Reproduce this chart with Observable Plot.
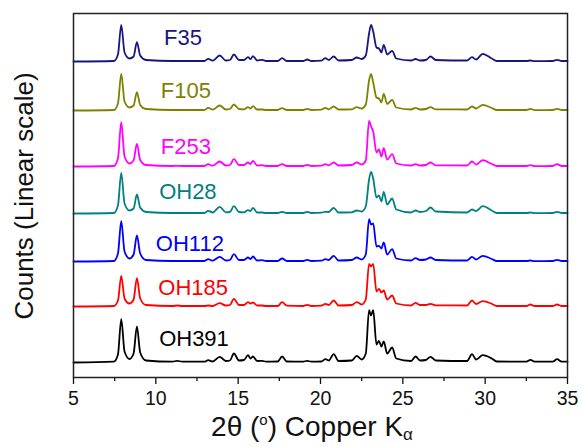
<!DOCTYPE html>
<html><head><meta charset="utf-8">
<script src="https://cdn.jsdelivr.net/npm/d3@7"></script>
<script src="https://cdn.jsdelivr.net/npm/@observablehq/plot@0.6"></script>
<style>body{margin:0;background:#fff;}</style>
</head><body><div id="chart"></div>
<script>
// 2θ positions at which the patterns were read (degrees)
const twoTheta = [5, 7.45, 7.7, 7.9, 8.1, 8.4, 8.65, 8.85, 9.05, 9.4,
  11.0, 11.3, 11.6, 12.95, 13.18, 13.45, 13.88, 14.25, 14.5, 14.74,
  15.05, 15.35, 15.6, 15.75, 15.9, 16.15, 16.45, 16.7, 17.4, 17.67,
  17.95, 18.95, 19.19, 19.45, 20.05, 20.3, 20.5, 20.8, 21.1, 21.9,
  22.2, 22.5, 22.75, 22.95, 23.07, 23.2, 23.4, 23.55, 23.7, 23.84,
  24.05, 24.35, 24.6, 25.5, 25.77, 26.05, 26.4, 26.68, 27.0, 28.9,
  29.2, 29.45, 29.85, 30.4, 30.7, 32.5, 32.75, 33.0, 34.1, 34.37, 34.65, 35];

const samples = ["F35", "F105", "F253", "OH28", "OH112", "OH185", "OH391"];
const colors  = ["#16167e", "#808000", "#ff00ff", "#008080", "#0000ff", "#ff0000", "#000000"];
const offsets = [316, 267, 211, 164, 116, 71, 15];   // vertical stacking offsets (counts)

const F35 = [0,0.5,7,36.7,9,3,5,19.4,6,1.5, 0.5,0.5,0.5,0.5,2.7,0.8,6,1,1.5,7,
  1.5,1.5,4.3,2.5,5.3,1,1.7,0.5,0.5,3.3, 0.5,0.5,2,0.5,0.8,3.3,1.5,5,1,1.5,
  4,2.5,6,28,36.7,30,14,13,9,16.7, 7,10.7,3,1,2.5,1,1.5,5,1.5,1,
  4.3,2,7.7,3,0.5,0.5,1,0.3,0.5,1.7,0.5,0.5];
const F105 = [0,0.5,7,36.7,9,3,5,18.3,5.5,1.5, 0.5,0.5,0.5,0.5,2.7,0.8,5,1,1.5,6,
  1.5,1.2,3.3,2,4.3,1,1,0.5,0.5,2.3, 0.5,0.5,1.7,0.5,0.8,2.7,1.2,4,1,1.2,
  3.3,2,6,30,36.7,28,13,12,8,16.7, 6.5,10.7,3,1,2.7,1,1.5,3.3,1.2,1,
  4,2,5.7,2.5,0.5,0.5,1.7,0.3,0.5,1.7,0.5,0.5];
const F253 = [0,0.5,8,44.3,10,3,6,22.7,6.5,1.5, 0.5,0.7,0.5,0.5,2.3,0.8,5,1,1.5,7.3,
  1.5,1.5,4,2.5,5.7,1,1.3,0.5,0.5,2.3, 0.5,0.5,1.7,0.5,0.8,2.3,1.2,4,1,1.5,
  4,2,6,45.7,40,35,14,17,10,18.3, 7,12.3,3,1,2.3,1,1.5,4,1.2,1,
  5,2,6.3,2.5,0.5,0.5,1.3,0.3,0.5,2.3,0.5,0.5];
const OH28 = [0,0.5,8,40.7,10,3,5,19,6,1.5, 0.5,0.5,0.5,0.5,2.7,1,6.7,1.2,1.5,7.3,
  1.5,1.2,3.3,2.5,5.7,1,1,0.5,0.5,1.7, 0.5,0.5,1.7,0.5,0.8,1.7,1.5,5.7,1,1.2,
  3,2,7,34,41.7,35,16,18,12,21.7, 9,15,4,1,3,1.5,2.5,6,2,1,
  4,2.5,7.3,3,0.5,0.5,1,0.3,0.5,1.7,0.5,0.5];
const OH112 = [0,0.5,8,40.3,10,3,7,26,8,1.5, 0.5,0.5,0.5,0.5,2.3,0.8,4.7,1,1.5,7.3,
  1.5,1.5,4,2.5,5,1,1.3,0.5,0.5,3, 0.5,0.5,1.7,0.5,0.8,2.3,1.5,5.7,1,1.5,
  4,2,7,42.3,37,38,15,15.7,13,19, 7,12.3,3,1,3.3,1.5,2,4,1.5,1,
  4.7,2,5.7,2.5,0.5,0.5,1,0.3,0.5,1.7,0.5,0.5];
const OH185 = [0,0.5,6,30.7,8,3,7,28.4,8,1.5, 0.5,1,0.5,0.5,1,0.5,3.3,1,1.5,7.7,
  1.5,1.5,4.3,3,4,1,1,0.5,0.5,4.3, 0.8,0.5,1.7,0.5,0.8,2.7,1.5,6,1,1.5,
  4.3,2,7,42.7,40,42.7,15,17.7,14,16, 7,11,3,1,3.7,1.5,1.5,2.7,1.2,1,
  6,2.5,5.3,2.7,0.5,0.5,2,0.5,0.5,2,0.5,0.5];
const OH391 = [0,0.8,8,43.4,11,3.5,9,36,10,2, 0.8,1.7,0.8,0.8,2.3,1,5.7,1.5,2,9,
  2,2.5,7.3,4,6,1.5,1.7,0.8,1,6, 1,0.8,1.7,0.8,1,3.3,2,8.3,1.5,2,
  6.7,3,9,52.3,47,52.3,18,21.7,16,21, 9,15,4,1.5,6,2,2.5,5.7,2,1.5,
  8.3,3,7.3,4,1,0.8,2.7,0.8,0.8,3.3,0.8,0.8];

const xTicks = [5, 10, 15, 20, 25, 30, 35];
const xMinorTicks = [7.5, 12.5, 17.5, 22.5, 27.5, 32.5];
const labelX = [10.5, 10.3, 10.3, 10.2, 10.0, 10.15, 10.2];
const labelLift = [24, 19.5, 19.5, 21.5, 18, 18.5, 23.5];

const series = [F35, F105, F253, OH28, OH112, OH185, OH391];
const rows = samples.flatMap((s, k) => twoTheta.map((x, i) => ({sample: s, x, y: offsets[k] + series[k][i]})));
const labels = samples.map((s, k) => ({sample: s, x: labelX[k], y: offsets[k] + labelLift[k]}));

const font = "'Liberation Sans', Arial, Helvetica, sans-serif";
const chart = Plot.plot({
  width: 582, height: 447,
  marginLeft: 73, marginRight: 15, marginTop: 13, marginBottom: 70,
  x: {domain: [5, 35]},
  y: {domain: [0, 364], axis: null},
  color: {domain: samples, range: colors},
  style: {fontFamily: font, background: "white", color: "#111"},
  marks: [
    Plot.axisX(xMinorTicks, {tickSize: 4, tickFormat: () => "", label: null, strokeWidth: 1.3}),
    Plot.axisX(xTicks, {tickSize: 7, tickPadding: 7, fontSize: 19.5, label: null, strokeWidth: 1.3}),
    Plot.line(rows, {x: "x", y: "y", z: "sample", stroke: "sample", strokeWidth: 1.8, curve: "monotone-x"}),
    Plot.text(labels, {x: "x", y: "y", text: "sample", fill: "sample", textAnchor: "start", fontSize: 22}),
    Plot.frame({stroke: "#222", strokeWidth: 1.5})
  ]
});
document.getElementById("chart").append(chart);

const svg = d3.select(chart);
const xt = svg.append("text")
  .attr("x", 312).attr("y", 436)
  .attr("text-anchor", "middle")
  .attr("font-family", font).attr("font-size", 28).attr("fill", "#111");
xt.append("tspan").text("2θ (");
xt.append("tspan").attr("font-size", 15).attr("dy", -11).text("o");
xt.append("tspan").attr("dy", 11).text(") Copper K");
xt.append("tspan").attr("font-size", 17).attr("dy", 4).text("α");

svg.append("text")
  .attr("transform", "translate(33,196) rotate(-90)")
  .attr("text-anchor", "middle")
  .attr("font-family", font).attr("font-size", 26).attr("fill", "#111")
  .text("Counts (Linear scale)");
</script>
</body></html>
